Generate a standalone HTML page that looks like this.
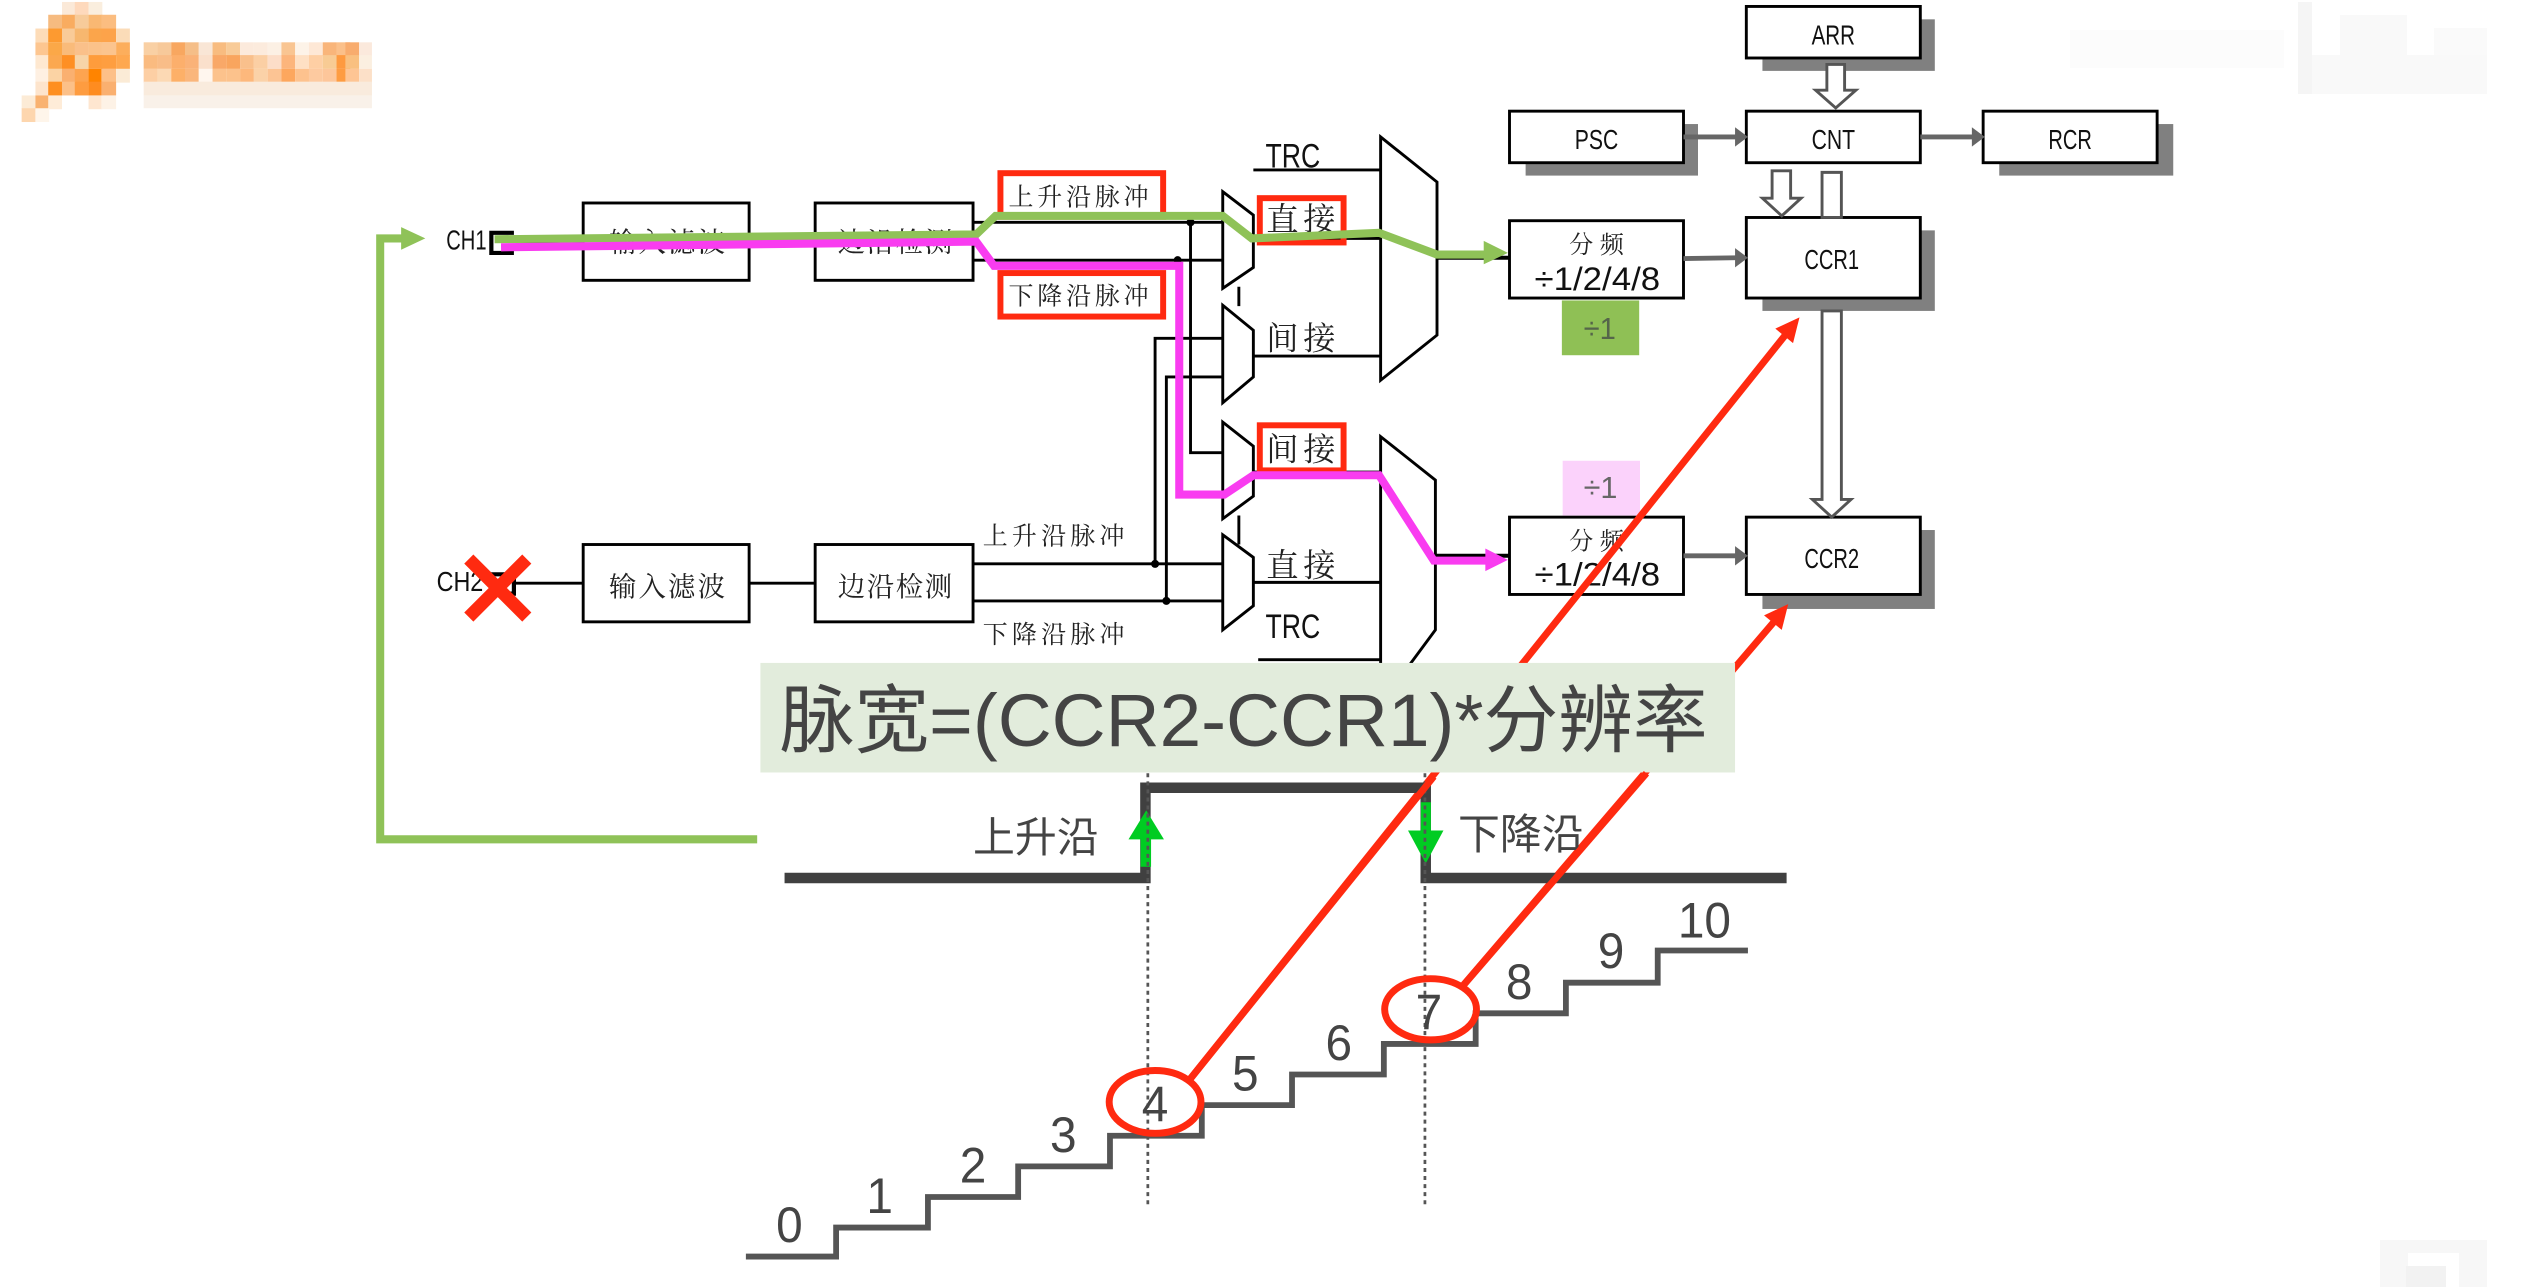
<!DOCTYPE html>
<html><head><meta charset="utf-8"><style>
html,body{margin:0;padding:0;background:#fff;width:2526px;height:1287px;overflow:hidden}
svg{position:absolute;left:0;top:0}
.n{font-family:"Liberation Sans",sans-serif;font-size:17px;fill:#111}
.s{font-family:"Liberation Serif","Noto Serif CJK SC",serif;fill:#222}
.y{font-family:"Liberation Sans","Noto Sans CJK SC",sans-serif;fill:#444}
.d{font-family:"Liberation Sans",sans-serif;font-size:31px;fill:#444;text-anchor:middle}
</style></head><body>
<svg width="2526" height="1287" viewBox="0 0 2526 1287">
<g transform="scale(.984)">
<g>
<rect x="63" y="2" width="14" height="14" fill="#fbe9d8"/><rect x="76" y="2" width="14" height="14" fill="#fed9bc"/><rect x="90" y="2" width="14" height="14" fill="#faeede"/>
<rect x="49" y="15" width="14" height="15" fill="#f6bb80"/><rect x="63" y="15" width="14" height="15" fill="#f9ac60"/><rect x="76" y="15" width="14" height="15" fill="#f7cb9a"/><rect x="90" y="15" width="14" height="15" fill="#f9b873"/><rect x="103" y="15" width="15" height="15" fill="#fbbd80"/>
<rect x="36" y="29" width="14" height="14" fill="#fddcb8"/><rect x="49" y="29" width="14" height="14" fill="#fd9a30"/><rect x="63" y="29" width="14" height="14" fill="#f9cb98"/><rect x="76" y="29" width="14" height="14" fill="#f7b76f"/><rect x="90" y="29" width="14" height="14" fill="#fba54b"/><rect x="103" y="29" width="15" height="14" fill="#fda34a"/><rect x="118" y="29" width="14" height="14" fill="#fbdcb8"/>
<rect x="36" y="43" width="14" height="14" fill="#fdc690"/><rect x="49" y="43" width="14" height="14" fill="#fba848"/><rect x="63" y="43" width="14" height="14" fill="#f9bb7a"/><rect x="76" y="43" width="14" height="14" fill="#fac08a"/><rect x="90" y="43" width="14" height="14" fill="#fbc28a"/><rect x="103" y="43" width="15" height="14" fill="#fbc48e"/><rect x="118" y="43" width="14" height="14" fill="#fcae5c"/>
<rect x="36" y="56" width="14" height="14" fill="#fee8d0"/><rect x="49" y="56" width="14" height="14" fill="#fba850"/><rect x="63" y="56" width="14" height="14" fill="#fe8f24"/><rect x="76" y="56" width="14" height="14" fill="#f7d4a8"/><rect x="90" y="56" width="14" height="14" fill="#fe9c3c"/><rect x="103" y="56" width="15" height="14" fill="#fe9e40"/><rect x="118" y="56" width="14" height="14" fill="#fea850"/>
<rect x="36" y="70" width="14" height="14" fill="#fef0e2"/><rect x="49" y="70" width="14" height="14" fill="#fbd3a4"/><rect x="63" y="70" width="14" height="14" fill="#fab070"/><rect x="76" y="70" width="14" height="14" fill="#fda450"/><rect x="90" y="70" width="14" height="14" fill="#ff8400"/><rect x="103" y="70" width="15" height="14" fill="#fdc088"/><rect x="118" y="70" width="14" height="14" fill="#fbebd6"/>
<rect x="36" y="83" width="14" height="14" fill="#fde4cc"/><rect x="49" y="83" width="14" height="14" fill="#fe8f20"/><rect x="63" y="83" width="14" height="14" fill="#fcc088"/><rect x="76" y="83" width="14" height="14" fill="#fe9c40"/><rect x="90" y="83" width="14" height="14" fill="#fe8c20"/><rect x="103" y="83" width="15" height="14" fill="#fab070"/>
<rect x="22" y="97" width="14" height="14" fill="#fcebd6"/><rect x="36" y="97" width="14" height="14" fill="#f9b270"/><rect x="49" y="97" width="14" height="14" fill="#feecd8"/><rect x="90" y="97" width="14" height="14" fill="#fee6d0"/><rect x="103" y="97" width="15" height="14" fill="#fdf2e6"/>
<rect x="22" y="110" width="14" height="14" fill="#fdd6ae"/><rect x="36" y="110" width="14" height="14" fill="#fef5ea"/>
</g>
<g>
<rect x="146" y="43" width="14" height="14" fill="#f9d0a4"/><rect x="160" y="43" width="14" height="14" fill="#f7c99a"/><rect x="174" y="43" width="14" height="14" fill="#f8a760"/><rect x="188" y="43" width="14" height="14" fill="#f5be88"/><rect x="202" y="43" width="14" height="14" fill="#f9e6d6"/><rect x="216" y="43" width="14" height="14" fill="#f8bc80"/><rect x="230" y="43" width="14" height="14" fill="#f8cb98"/><rect x="244" y="43" width="14" height="14" fill="#fceadc"/><rect x="258" y="43" width="14" height="14" fill="#fcebdd"/><rect x="272" y="43" width="14" height="14" fill="#fcf0e4"/><rect x="286" y="43" width="14" height="14" fill="#f9c592"/><rect x="300" y="43" width="14" height="14" fill="#fdf3e8"/><rect x="314" y="43" width="14" height="14" fill="#fee8d6"/><rect x="328" y="43" width="14" height="14" fill="#f9b57a"/><rect x="342" y="43" width="14" height="14" fill="#fbc08a"/><rect x="351" y="43" width="14" height="14" fill="#f8ac6e"/><rect x="365" y="43" width="13" height="14" fill="#fbe9dc"/>
<rect x="146" y="56" width="14" height="14" fill="#fabb80"/><rect x="160" y="56" width="14" height="14" fill="#f9bd88"/><rect x="174" y="56" width="14" height="14" fill="#fcaf6c"/><rect x="188" y="56" width="14" height="14" fill="#fab278"/><rect x="202" y="56" width="14" height="14" fill="#fae0cc"/><rect x="216" y="56" width="14" height="14" fill="#f9a868"/><rect x="230" y="56" width="14" height="14" fill="#f9a55e"/><rect x="244" y="56" width="14" height="14" fill="#f9c08c"/><rect x="258" y="56" width="14" height="14" fill="#fbcfa4"/><rect x="272" y="56" width="14" height="14" fill="#fcddc8"/><rect x="286" y="56" width="14" height="14" fill="#fcb57c"/><rect x="300" y="56" width="14" height="14" fill="#fee0c4"/><rect x="314" y="56" width="14" height="14" fill="#fecfa4"/><rect x="328" y="56" width="14" height="14" fill="#f8cb94"/><rect x="342" y="56" width="14" height="14" fill="#fe9a40"/><rect x="351" y="56" width="14" height="14" fill="#f9c080"/><rect x="365" y="56" width="13" height="14" fill="#fbefe0"/>
<rect x="146" y="70" width="14" height="14" fill="#fdcfa4"/><rect x="160" y="70" width="14" height="14" fill="#fcd9b4"/><rect x="174" y="70" width="14" height="14" fill="#fdb068"/><rect x="188" y="70" width="14" height="14" fill="#fab67c"/><rect x="202" y="70" width="14" height="14" fill="#fff6ee"/><rect x="216" y="70" width="14" height="14" fill="#fcc28c"/><rect x="230" y="70" width="14" height="14" fill="#fcc28c"/><rect x="244" y="70" width="14" height="14" fill="#fdb87c"/><rect x="258" y="70" width="14" height="14" fill="#fbd2a8"/><rect x="272" y="70" width="14" height="14" fill="#fcc494"/><rect x="286" y="70" width="14" height="14" fill="#fda75e"/><rect x="300" y="70" width="14" height="14" fill="#fdc28e"/><rect x="314" y="70" width="14" height="14" fill="#fdcaa0"/><rect x="328" y="70" width="14" height="14" fill="#fdc69a"/><rect x="342" y="70" width="14" height="14" fill="#fe9c42"/><rect x="351" y="70" width="14" height="14" fill="#fec594"/><rect x="365" y="70" width="13" height="14" fill="#fce0c8"/>
<rect x="146" y="83" width="232" height="14" fill="#f9ebdd"/>
<rect x="146" y="97" width="232" height="13" fill="#f9f1e9"/>
</g>
</g>
<g fill="#f9f9f9">
<rect x="2298" y="2" width="14" height="92" fill="#f5f5f5"/><rect x="2312" y="55" width="175" height="39"/><rect x="2340" y="15" width="67" height="40"/><rect x="2070" y="30" width="214" height="38" fill="#fcfcfc"/><rect x="2434" y="28" width="53" height="27" fill="#fafafa"/>
<path d="M2380 1240h107v47h-28v-34h-51v34h-28z" fill="#f7f7f7"/><rect x="2406" y="1266" width="40" height="21" fill="#f2f2f2"/>
</g>
<g transform="scale(1.611)">
<!-- shadows -->
<g fill="#808080">
<rect x="1094" y="12" width="107" height="32"/><rect x="947" y="77" width="107" height="32"/><rect x="1241" y="77" width="108" height="32"/><rect x="1094" y="143" width="107" height="50"/><rect x="1094" y="329" width="107" height="49"/>
</g>
<!-- blocks -->
<g fill="#fff" stroke="#000" stroke-width="1.800">
<rect x="1084" y="4" width="108" height="32"/><rect x="937" y="69" width="108" height="32"/><rect x="1084" y="69" width="108" height="32"/><rect x="1231" y="69" width="108" height="32"/>
<rect x="937" y="137" width="108" height="48"/><rect x="1084" y="135" width="108" height="50"/><rect x="937" y="321" width="108" height="48"/><rect x="1084" y="321" width="108" height="48"/>
<rect x="362" y="126" width="103" height="48"/><rect x="506" y="126" width="98" height="48"/><rect x="362" y="338" width="103" height="48"/><rect x="506" y="338" width="98" height="48"/>
</g>
<rect x="969.500" y="186.500" width="48" height="34" fill="#8fc055"/>
<rect x="970" y="286" width="48" height="34" fill="#fbd2fb"/>
<text class="n" x="1124.500" y="27.500" textLength="27" lengthAdjust="spacingAndGlyphs">ARR</text>
<text class="n" x="977.500" y="92.500" textLength="27" lengthAdjust="spacingAndGlyphs">PSC</text>
<text class="n" x="1124.500" y="92.500" textLength="27" lengthAdjust="spacingAndGlyphs">CNT</text>
<text class="n" x="1271.500" y="92.500" textLength="27" lengthAdjust="spacingAndGlyphs">RCR</text>
<text class="n" x="1120" y="167" textLength="34" lengthAdjust="spacingAndGlyphs">CCR1</text>
<text class="n" x="1120" y="352.500" textLength="34" lengthAdjust="spacingAndGlyphs">CCR2</text>
<text class="s" x="974" y="157" font-size="15" textLength="34">分频</text>
<text class="n" x="952.500" y="180" textLength="78" lengthAdjust="spacingAndGlyphs" style="font-size:20px">÷1/2/4/8</text>
<text class="s" x="974" y="341" font-size="15" textLength="34">分频</text>
<text class="n" x="952.500" y="363.500" textLength="78" lengthAdjust="spacingAndGlyphs" style="font-size:20px">÷1/2/4/8</text>
<text class="n" x="983" y="210.500" textLength="20" lengthAdjust="spacingAndGlyphs" style="fill:#55654a;font-size:19px">÷1</text>
<text class="n" x="983" y="309" textLength="21" lengthAdjust="spacingAndGlyphs" style="fill:#666;font-size:19px">÷1</text>
<!-- grey arrows -->
<g stroke="#666" stroke-width="3" fill="none">
<path d="M1045 85H1078"/><path d="M1192 85H1225"/><path d="M1045 160.500L1078 160"/><path d="M1045 345H1078"/>
</g>
<g fill="#666"><path d="M1077 79L1085 85L1077 91z"/><path d="M1224 79L1232 85L1224 91z"/><path d="M1077 154L1085 160L1077 166z"/><path d="M1077 339L1085 345L1077 351z"/></g>
<!-- hollow arrows -->
<g fill="#fff" stroke="#555" stroke-width="1.800">
<path d="M1134 40h11v16h7l-12.500 11l-12.500-11h7z"/>
<path d="M1100 106h11.500v17h6.500l-12 11l-12-11h6z"/>
<path d="M1131 107h12v28h-12z"/>
<path d="M1131 193h12v117h6l-12 11l-12-11h6z"/>
</g>
<!-- wires -->
<g fill="none" stroke="#000" stroke-width="1.800">
<path d="M320 150H362M465 150H506"/><path d="M320 362H362M465 362H506"/>
<path d="M604 138H760M604 161.500H760"/>
<path d="M604 350H760M604 373H760"/>
<path d="M739 138V281H760"/><path d="M717 350V210H760"/><path d="M724 373V234H760"/><path d="M732 163V307H760"/>
<path d="M778 105.500H858M778 148H858M778 221H858M778 293H858M778 361.500H858"/>
<path d="M781 409.500H861"/>
<path d="M892 160H937M891 345H937" stroke-width="2.500"/>
<path d="M769 178V190M769 320V338"/>
</g>
<g fill="#000"><circle cx="739" cy="138" r="2.500"/><circle cx="731" cy="161.500" r="2.500"/><circle cx="717" cy="350" r="2.500"/><circle cx="724" cy="373" r="2.500"/></g>
<!-- muxes -->
<g fill="#fff" stroke="#000" stroke-width="1.800">
<path d="M857 85L892 113V208L857 236z"/>
<path d="M857 271L891 298V391L857 437z"/>
<path d="M759 119L778 133.500V166L759 179z"/><path d="M759 189.500L778 205V234L759 250z"/><path d="M759 262L778 277V308L759 322z"/><path d="M759 332L778 346V376L759 391z"/>
</g>
<!-- labels -->
<text class="n" x="785.500" y="104" textLength="34" lengthAdjust="spacingAndGlyphs" style="font-size:21px">TRC</text>
<text class="n" x="785.500" y="396" textLength="34" lengthAdjust="spacingAndGlyphs" style="font-size:21px">TRC</text>
<text class="s" x="786" y="217" font-size="20" textLength="43">间接</text>
<text class="s" x="786" y="358" font-size="20" textLength="43">直接</text>
<rect x="782" y="123" width="52" height="27.500" fill="none" stroke="#ff2a10" stroke-width="3.700"/>
<rect x="782" y="264" width="52" height="28" fill="none" stroke="#ff2a10" stroke-width="3.700"/>
<text class="s" x="786" y="143" font-size="20" textLength="43">直接</text>
<text class="s" x="786" y="286" font-size="20" textLength="43">间接</text>
<rect x="621" y="107.500" width="101" height="27" fill="#fff" stroke="#ff2a10" stroke-width="3.700"/>
<rect x="621" y="169.500" width="101" height="27" fill="#fff" stroke="#ff2a10" stroke-width="3.700"/>
<text class="s" x="626" y="127.500" font-size="15.500" textLength="87">上升沿脉冲</text>
<text class="s" x="626" y="189" font-size="15.500" textLength="87">下降沿脉冲</text>
<text class="s" x="610" y="338" font-size="15.500" textLength="88">上升沿脉冲</text>
<text class="s" x="610" y="399" font-size="15.500" textLength="88">下降沿脉冲</text>
<text class="s" x="378" y="156" font-size="17" textLength="72">输入滤波</text>
<text class="s" x="520" y="156" font-size="17" textLength="71">边沿检测</text>
<text class="s" x="378" y="370" font-size="17" textLength="72">输入滤波</text>
<text class="s" x="520" y="370" font-size="17" textLength="71">边沿检测</text>
<text class="n" x="277" y="155" textLength="25" lengthAdjust="spacingAndGlyphs">CH1</text>
<text class="n" x="271" y="367" textLength="29" lengthAdjust="spacingAndGlyphs">CH2</text>
<path d="M319 144.500H305V157H319" fill="none" stroke="#000" stroke-width="2.600"/>
<path d="M304 356.500H319V368.500H304" fill="none" stroke="#000" stroke-width="2.600"/>
<!-- coloured paths -->
<g fill="none" stroke-width="5" stroke-linejoin="miter">
<path d="M307 148.500L606 145.500L618 134H759L777 148L856 144.500L892 158H924" stroke="#8fc258"/>
<path d="M470 521H236V148H252" stroke="#8fc258"/>
<path d="M311 153.500L606 150L617 165H732V307H760L778 295H856L890 348H925" stroke="#f93cf0"/>
</g>
<path d="M921 149.500L936 157L921 164z" fill="#8fc258"/>
<path d="M249 141L264 148L249 155z" fill="#8fc258"/>
<path d="M922 340.500L936 347.500L922 354.500z" fill="#f93cf0"/>
<!-- X -->
<path d="M291 347L327 383M327 347L291 383" stroke="#ff2a10" stroke-width="8" fill="none"/>
<!-- red arrows -->
<g fill="none" stroke="#ff2a10" stroke-width="4.300">
<path d="M737 672L1109 207"/><path d="M908 612L1102 385"/>
</g>
<g fill="#ff2a10"><path d="M1117 197L1113 213L1102 204z"/><path d="M1110 375L1106 391L1095 382z"/></g>
<!-- panel -->
<rect x="472" y="411.500" width="605" height="68" fill="#e2ecdc"/>
<text class="y" x="484" y="463" font-size="46" textLength="576" lengthAdjust="spacingAndGlyphs">脉宽=(CCR2-CCR1)*分辨率</text>
<!-- pulse -->
<path d="M487 545H711V489H885V545H1109" fill="none" stroke="#404040" stroke-width="6.500"/>
<g fill="#00cc22">
<path d="M708 520h6.500v18h-6.500z"/><path d="M711.500 503L722.500 521H700.500z"/>
<path d="M882 498h6.200v18h-6.200z"/><path d="M885 536L896 515.500H874z"/>
</g>
<g stroke="#555" stroke-width="1.700" stroke-dasharray="2.500 2.500" fill="none"><path d="M712.500 480V750"/><path d="M884.500 480V750"/></g>
<text class="y" x="604" y="529" font-size="26" textLength="78">上升沿</text>
<text class="y" x="905" y="527" font-size="26" textLength="78">下降沿</text>
<!-- red over pulse -->
<path d="M737 672L890 482" stroke="#ff2a10" stroke-width="4.300" fill="none"/>
<path d="M908 612L1022 480" stroke="#ff2a10" stroke-width="4.300" fill="none"/>
<!-- stairs -->
<path d="M463 780H519V762H576V743H632V724H689V705H746V686H802V667H859V648H916V629H972V610H1029V590H1085" fill="none" stroke="#555" stroke-width="3.600"/>
<g fill="none" stroke="#ff2a10" stroke-width="4.300">
<ellipse cx="717" cy="684" rx="28.500" ry="19.500"/><ellipse cx="888" cy="626.500" rx="28.500" ry="19"/>
</g>
<g>
<text class="d" x="490" y="771" textLength="16.500" lengthAdjust="spacingAndGlyphs">0</text>
<text class="d" x="546" y="753" textLength="16.500" lengthAdjust="spacingAndGlyphs">1</text>
<text class="d" x="604" y="734" textLength="16.500" lengthAdjust="spacingAndGlyphs">2</text>
<text class="d" x="660" y="715" textLength="16.500" lengthAdjust="spacingAndGlyphs">3</text>
<text class="d" x="717" y="696" textLength="16.500" lengthAdjust="spacingAndGlyphs">4</text>
<text class="d" x="773" y="677" textLength="16.500" lengthAdjust="spacingAndGlyphs">5</text>
<text class="d" x="831" y="658" textLength="16.500" lengthAdjust="spacingAndGlyphs">6</text>
<text class="d" x="887" y="639" textLength="16.500" lengthAdjust="spacingAndGlyphs">7</text>
<text class="d" x="943" y="620" textLength="16.500" lengthAdjust="spacingAndGlyphs">8</text>
<text class="d" x="1000" y="601" textLength="16.500" lengthAdjust="spacingAndGlyphs">9</text>
<text class="d" x="1058" y="582" textLength="33" lengthAdjust="spacingAndGlyphs">10</text>
</g>
</g>
</svg>
</body></html>
